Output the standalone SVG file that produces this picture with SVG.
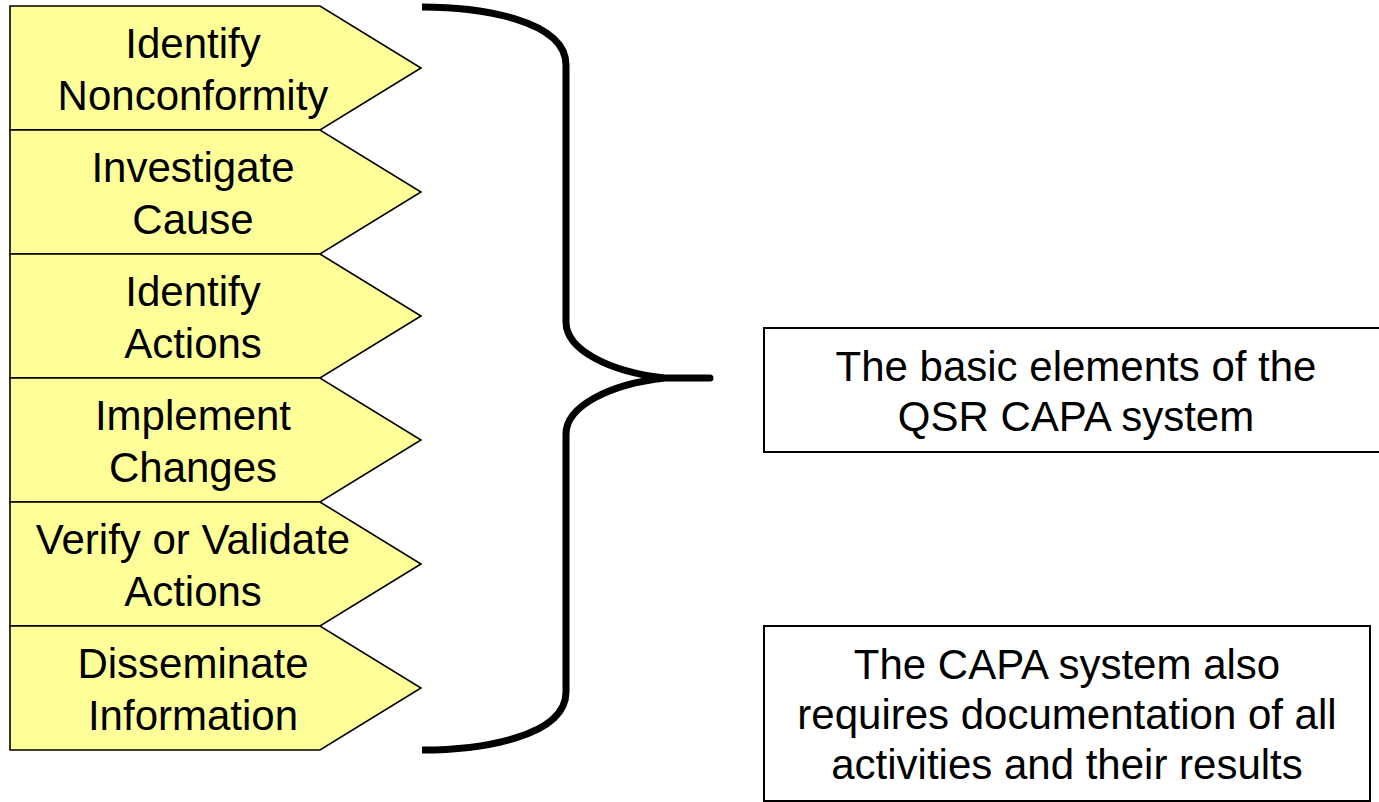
<svg xmlns="http://www.w3.org/2000/svg" width="1379" height="802" viewBox="0 0 1379 802">
  <style>
    .step { fill: #FFFF99; stroke: #000; stroke-width: 1.6; stroke-linejoin: miter; }
    .note { fill: #FFFFFF; stroke: #000; stroke-width: 2; }
    .label { font-family: "Liberation Sans", Arial, sans-serif; font-size: 42px; fill: #000; text-anchor: middle; }
    .brace { fill: none; stroke: #000; stroke-width: 7; stroke-linecap: butt; stroke-linejoin: round; }
  </style>
  <rect width="1379" height="802" fill="#FFFFFF"/>

  <!-- CAPA process steps (pentagon arrows) -->
  <g id="step-identify-nonconformity">
    <polygon class="step" points="10,6 320,6 421,68 320,130 10,130"/>
    <text class="label" x="193" y="58">Identify</text>
    <text class="label" x="193" y="110">Nonconformity</text>
  </g>
  <g id="step-investigate-cause">
    <polygon class="step" points="10,130 320,130 421,192 320,254 10,254"/>
    <text class="label" x="193" y="182">Investigate</text>
    <text class="label" x="193" y="234">Cause</text>
  </g>
  <g id="step-identify-actions">
    <polygon class="step" points="10,254 320,254 421,316 320,378 10,378"/>
    <text class="label" x="193" y="306">Identify</text>
    <text class="label" x="193" y="358">Actions</text>
  </g>
  <g id="step-implement-changes">
    <polygon class="step" points="10,378 320,378 421,440 320,502 10,502"/>
    <text class="label" x="193" y="430">Implement</text>
    <text class="label" x="193" y="482">Changes</text>
  </g>
  <g id="step-verify-validate">
    <polygon class="step" points="10,502 320,502 421,564 320,626 10,626"/>
    <text class="label" x="193" y="554">Verify or Validate</text>
    <text class="label" x="193" y="606">Actions</text>
  </g>
  <g id="step-disseminate">
    <polygon class="step" points="10,626 320,626 421,688 320,750 10,750"/>
    <text class="label" x="193" y="678">Disseminate</text>
    <text class="label" x="193" y="730">Information</text>
  </g>

  <!-- curly brace grouping the steps -->
  <g id="connectors">
    <path class="brace" d="M422,7 C480,7 566,20 566,65 L566,322 C566,350 610,372 665,378 L710,378 L665,378 C610,384 566,406 566,434 L566,692 C566,737 480,750 422,750"/>
  </g>

  <!-- explanatory notes -->
  <g id="note-basic-elements">
    <rect class="note" x="764" y="328" width="625" height="124"/>
    <text class="label" x="1076" y="381">The basic elements of the</text>
    <text class="label" x="1076" y="431">QSR CAPA system</text>
  </g>
  <g id="note-documentation">
    <rect class="note" x="764" y="626" width="606" height="175"/>
    <text class="label" x="1067" y="679">The CAPA system also</text>
    <text class="label" x="1067" y="729">requires documentation of all</text>
    <text class="label" x="1067" y="779">activities and their results</text>
  </g>
</svg>
